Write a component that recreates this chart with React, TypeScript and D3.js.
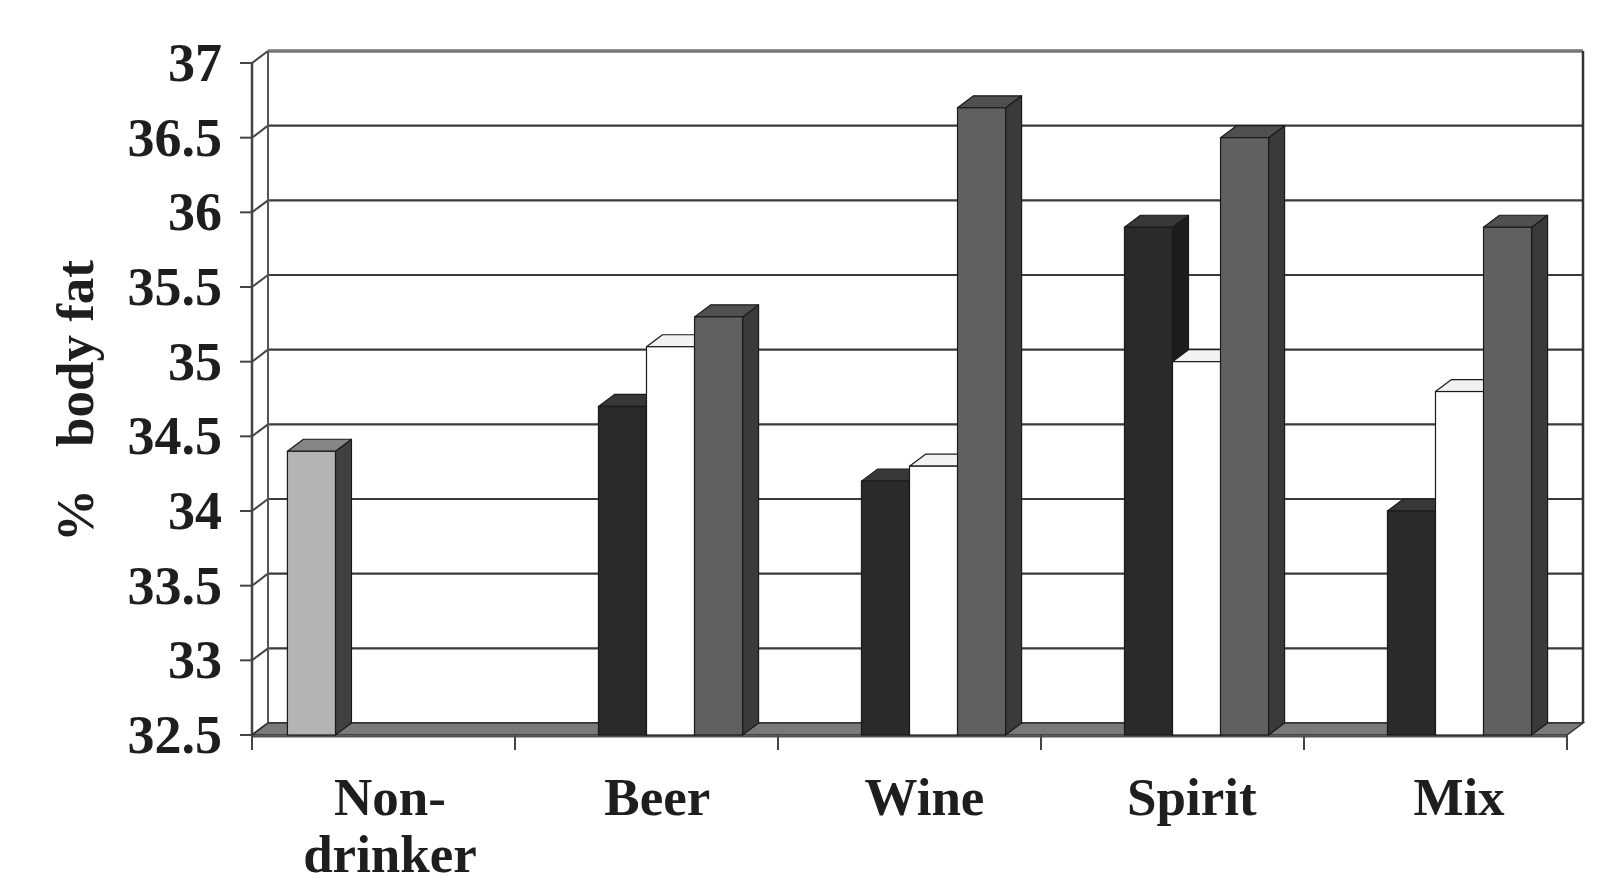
import React from "react";
import * as d3 from "d3";

// ---- data ----
const categories: string[] = ["Non-drinker", "Beer", "Wine", "Spirit", "Mix"];
const categoryLines: string[][] = [["Non-", "drinker"], ["Beer"], ["Wine"], ["Spirit"], ["Mix"]];
const seriesNames: string[] = ["Non-drinker", "Low", "Moderate", "High"];
const nonDrinkerValues: (number | null)[] = [34.4, null, null, null, null];
const lowValues: (number | null)[] = [null, 34.7, 34.2, 35.9, 34.0];
const moderateValues: (number | null)[] = [null, 35.1, 34.3, 35.0, 34.8];
const highValues: (number | null)[] = [null, 35.3, 36.7, 36.5, 35.9];
const yTicks: number[] = [32.5, 33, 33.5, 34, 34.5, 35, 35.5, 36, 36.5, 37];
const yLabel = "% body fat";

const seriesValues = [nonDrinkerValues, lowValues, moderateValues, highValues];
const seriesStyle = [
  { front: "#b4b4b4", top: "#858585", side: "#414141" },
  { front: "#2a2a2a", top: "#383838", side: "#1c1c1c" },
  { front: "#ffffff", top: "#f2f2f2", side: "#d8d8d8" },
  { front: "#606060", top: "#505050", side: "#3a3a3a" },
];

const W = 1600;
const H = 895;
const X0 = 252;
const X1 = 1567;
const YB = 735;
const YT = 63;
const DX = 16;
const DY = -12;

export default function App() {
  const y = d3.scaleLinear().domain([32.5, 37]).range([YB, YT]);
  const x = d3.scaleBand<string>().domain(categories).range([X0, X1]).paddingInner(0).paddingOuter(0);
  const x1 = d3
    .scaleBand<string>()
    .domain(seriesNames)
    .range([0, x.bandwidth()])
    .paddingInner(0)
    .paddingOuter(0.7375);
  const labelX = d3.scalePoint<string>().domain(categories).range([390, 1459]);

  const slotEdges = categories.map((c) => x(c)!).concat([X1]);
  const font = "'Liberation Serif', 'Times New Roman', serif";

  const bars: JSX.Element[] = [];
  categories.forEach((c, ci) => {
    seriesNames.forEach((s, si) => {
      const v = seriesValues[si][ci];
      if (v == null) return;
      const bx = x(c)! + x1(s)!;
      const bw = x1.bandwidth();
      const yt = y(v);
      const st = seriesStyle[si];
      const top = `M${bx},${yt}L${bx + bw},${yt}L${bx + bw + DX},${yt + DY}L${bx + DX},${yt + DY}Z`;
      const side = `M${bx + bw},${yt}L${bx + bw + DX},${yt + DY}L${bx + bw + DX},${YB + DY}L${bx + bw},${YB}Z`;
      bars.push(
        <g key={`${ci}-${si}`}>
          <path d={side} fill={st.side} stroke="#1a1a1a" strokeWidth={1.2} strokeLinejoin="round" />
          <path d={top} fill={st.top} stroke="#1a1a1a" strokeWidth={1.2} strokeLinejoin="round" />
          <rect x={bx} y={yt} width={bw} height={YB - yt} fill={st.front} stroke="#1a1a1a" strokeWidth={1.2} />
        </g>
      );
    });
  });

  return (
    <svg width={W} height={H} style={{ position: "absolute", left: 0, top: 0, background: "#fff" }}>
      {/* back wall gridlines */}
      {yTicks.map((t) => (
        <g key={`g${t}`}>
          <line x1={X0 + DX} x2={X1 + DX} y1={y(t) + DY} y2={y(t) + DY} stroke={t === 37 ? "#777" : "#3a3a3a"} strokeWidth={t === 37 ? 3.5 : 2.2} />
          <line x1={X0} x2={X0 + DX} y1={y(t)} y2={y(t) + DY} stroke="#444" strokeWidth={2} />
          <line x1={240} x2={X0} y1={y(t)} y2={y(t)} stroke="#444" strokeWidth={2} />
        </g>
      ))}
      {/* walls edges */}
      <line x1={X0 + DX} x2={X0 + DX} y1={YT + DY} y2={YB + DY} stroke="#555" strokeWidth={2} />
      <line x1={X1 + DX} x2={X1 + DX} y1={YT + DY} y2={YB + DY} stroke="#333" strokeWidth={2.5} />
      <line x1={X0} x2={X0} y1={YT} y2={YB} stroke="#444" strokeWidth={2.5} />
      {/* floor */}
      <path
        d={`M${X0},${YB}L${X1},${YB}L${X1 + DX},${YB + DY}L${X0 + DX},${YB + DY}Z`}
        fill="#7a7a7a"
        stroke="#333"
        strokeWidth={1.5}
      />
      <line x1={X0} x2={X1} y1={YB + 1.5} y2={YB + 1.5} stroke="#555" strokeWidth={2} />
      {/* x ticks */}
      {slotEdges.map((e, i) => (
        <line key={`xt${i}`} x1={e} x2={e} y1={YB} y2={YB + 15} stroke="#444" strokeWidth={2} />
      ))}
      {bars}
      {/* y tick labels */}
      {yTicks.map((t) => (
        <text
          key={`yl${t}`}
          x={222}
          y={y(t) + 18}
          textAnchor="end"
          fontFamily={font}
          fontWeight="bold"
          fontSize={54}
          fill="#1e1e1e"
        >
          {String(t)}
        </text>
      ))}
      {/* category labels */}
      {categories.map((c, ci) => (
        <text key={`cl${ci}`} textAnchor="middle" fontFamily={font} fontWeight="bold" fontSize={53} fill="#1e1e1e">
          {categoryLines[ci].map((ln, li) => (
            <tspan key={li} x={labelX(c)} y={815 + li * 57}>
              {ln}
            </tspan>
          ))}
        </text>
      ))}
      {/* y title */}
      <text
        transform={`translate(93,401) rotate(-90)`}
        textAnchor="middle"
        fontFamily={font}
        fontWeight="bold"
        fontSize={53}
        fill="#1e1e1e"
      >
        <tspan>{yLabel.slice(0, 1)}</tspan>
        <tspan dx={42}>{yLabel.slice(2)}</tspan>
      </text>
    </svg>
  );
}
